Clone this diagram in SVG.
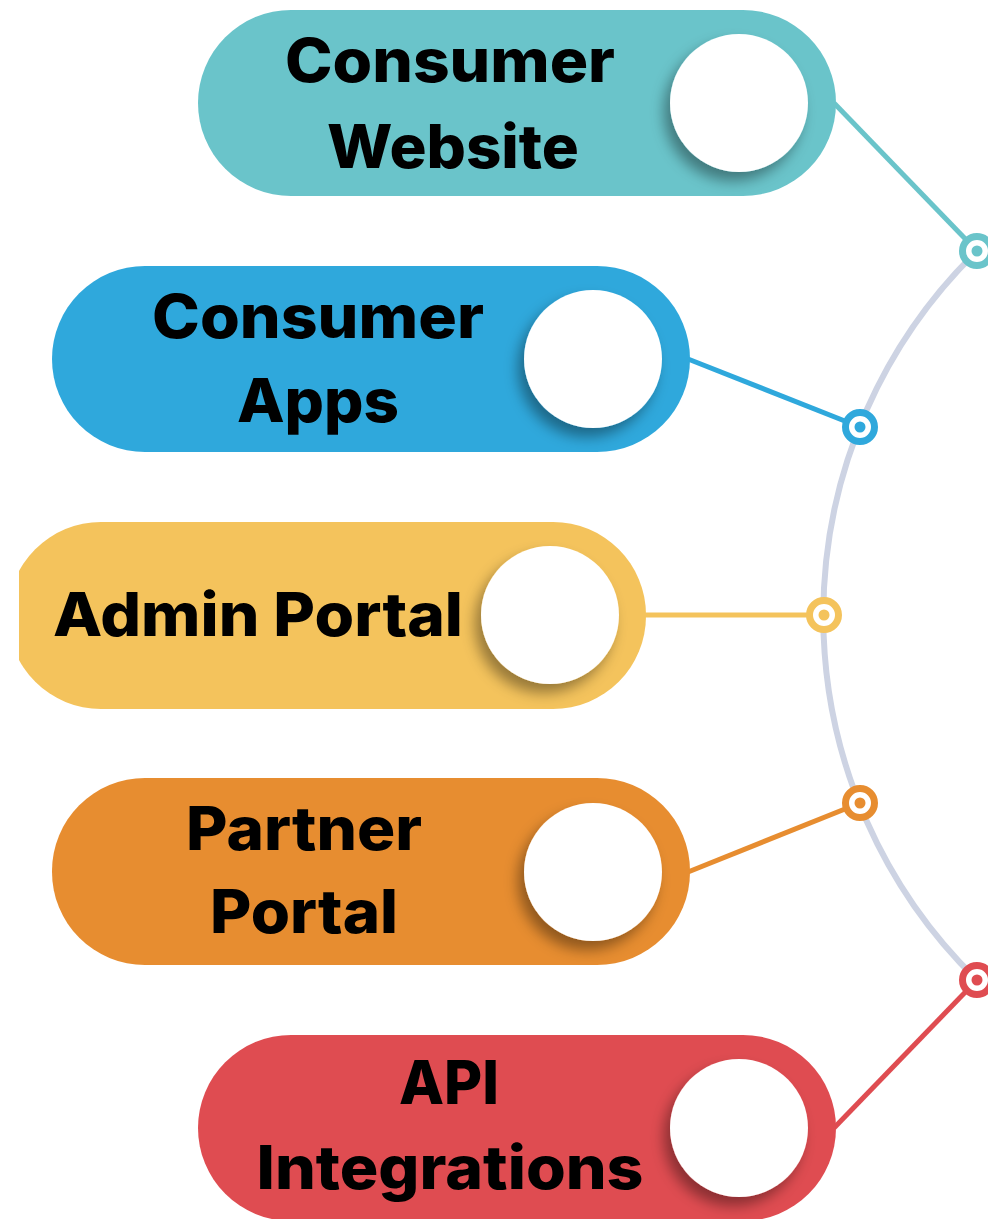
<svg xmlns="http://www.w3.org/2000/svg" width="988" height="1219" viewBox="0 0 988 1219">
<style>
.lbl{font-family:Inter,"Liberation Sans",sans-serif;font-weight:800;font-size:60px;fill:#000;text-anchor:middle}
.disc{fill:#fff;filter:url(#sh)}
.arc{fill:none;stroke:#CDD3E3;stroke-width:6}
.ring{fill:#fff;stroke-width:7}
.conn{stroke-width:5}
</style>
<defs>
<filter id="sh" x="-40%" y="-40%" width="180%" height="180%">
<feDropShadow dx="-6" dy="9" stdDeviation="7" flood-color="#000" flood-opacity="0.38"/>
</filter>
<clipPath id="clipY"><rect x="19" y="0" width="969" height="1219"/></clipPath>
</defs>
<rect width="988" height="1219" fill="#fff"/>
<g id="connectors">
<path class="arc" d="M977,251 A509,509 0 0 0 977,980"/>
<line class="conn" x1="834" y1="103" x2="977" y2="251" stroke="#6AC4CA"/>
<line class="conn" x1="688" y1="359" x2="860" y2="427" stroke="#2FA8DC"/>
<line class="conn" x1="644" y1="615" x2="824" y2="615" stroke="#F4C35C"/>
<line class="conn" x1="688" y1="872" x2="860" y2="803" stroke="#E78D30"/>
<line class="conn" x1="834" y1="1128" x2="977" y2="980" stroke="#DF4C51"/>
<circle class="ring" cx="977" cy="251" r="14.5" stroke="#6AC4CA"/><circle cx="977" cy="251" r="5.5" fill="#6AC4CA"/>
<circle class="ring" cx="860" cy="427" r="14.5" stroke="#2FA8DC"/><circle cx="860" cy="427" r="5.5" fill="#2FA8DC"/>
<circle class="ring" cx="824" cy="615" r="14.5" stroke="#F4C35C"/><circle cx="824" cy="615" r="5.5" fill="#F4C35C"/>
<circle class="ring" cx="860" cy="803" r="14.5" stroke="#E78D30"/><circle cx="860" cy="803" r="5.5" fill="#E78D30"/>
<circle class="ring" cx="977" cy="980" r="14.5" stroke="#DF4C51"/><circle cx="977" cy="980" r="5.5" fill="#DF4C51"/>
</g>
<g id="node-consumer-website">
<rect x="198" y="10" width="638" height="186" rx="93" fill="#6AC4CA"/>
<circle class="disc" cx="739" cy="103" r="69"/>
<text class="lbl" x="450" y="82" textLength="330" lengthAdjust="spacingAndGlyphs">Consumer</text>
<text class="lbl" x="453" y="168" textLength="252" lengthAdjust="spacingAndGlyphs">Website</text>
</g>
<g id="node-consumer-apps">
<rect x="52" y="266" width="638" height="186" rx="93" fill="#2FA8DC"/>
<circle class="disc" cx="593" cy="359" r="69"/>
<text class="lbl" x="318" y="338" textLength="332" lengthAdjust="spacingAndGlyphs">Consumer</text>
<text class="lbl" x="318" y="422" textLength="162" lengthAdjust="spacingAndGlyphs">Apps</text>
</g>
<g id="node-admin-portal">
<rect x="8" y="522" width="638" height="187" rx="93" fill="#F4C35C" clip-path="url(#clipY)"/>
<circle class="disc" cx="550" cy="615" r="69"/>
<text class="lbl" x="258" y="636" textLength="410" lengthAdjust="spacingAndGlyphs">Admin Portal</text>
</g>
<g id="node-partner-portal">
<rect x="52" y="778" width="638" height="187" rx="93" fill="#E78D30"/>
<circle class="disc" cx="593" cy="872" r="69"/>
<text class="lbl" x="304" y="850" textLength="236" lengthAdjust="spacingAndGlyphs">Partner</text>
<text class="lbl" x="304" y="933" textLength="188" lengthAdjust="spacingAndGlyphs">Portal</text>
</g>
<g id="node-api-integrations">
<rect x="198" y="1035" width="638" height="186" rx="93" fill="#DF4C51"/>
<circle class="disc" cx="739" cy="1128" r="69"/>
<text class="lbl" x="449" y="1104" textLength="100" lengthAdjust="spacingAndGlyphs">API</text>
<text class="lbl" x="450" y="1189" textLength="387" lengthAdjust="spacingAndGlyphs">Integrations</text>
</g>
</svg>
